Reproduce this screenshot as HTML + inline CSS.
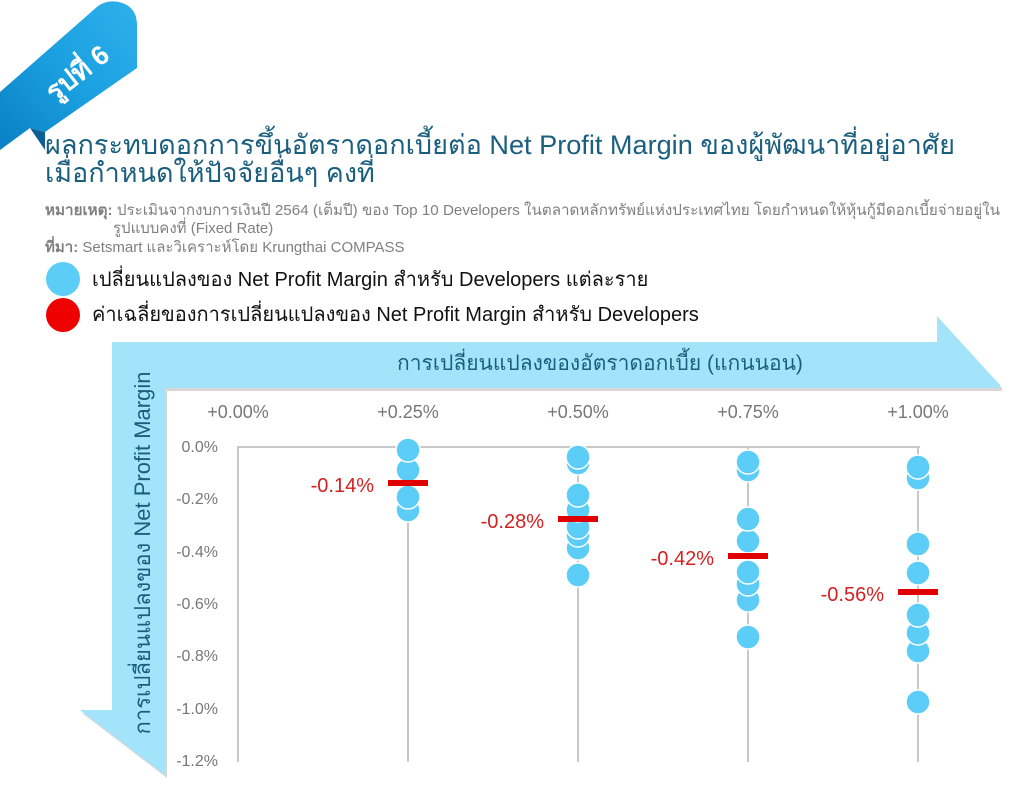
<!DOCTYPE html>
<html><head><meta charset="utf-8"><style>
html,body{margin:0;padding:0;background:#fff;}
svg{display:block;font-family:"Liberation Sans",sans-serif;}
</style></head><body>
<svg width="1025" height="789" viewBox="0 0 1025 789" xmlns="http://www.w3.org/2000/svg">
<defs>
<linearGradient id="rib" x1="0" y1="1" x2="1" y2="0">
<stop offset="0" stop-color="#0a7fc4"/><stop offset="0.5" stop-color="#1aa0e0"/><stop offset="1" stop-color="#2fb0ea"/>
</linearGradient>
</defs>
<polygon points="30,128 45,150 45,132" fill="#0a5f96"/>
<path d="M0,92 L98,6 Q110,-2 125,4 Q137,10 137,25 L137,68 L45,132 L30,128 L0,150 Z" fill="url(#rib)"/>
<text x="78" y="82" transform="rotate(-38 78 74)" font-size="27" font-weight="bold" fill="#fff" text-anchor="middle">รูปที่ 6</text>
<text x="45" y="154" font-size="27" fill="#1b5f7e" textLength="910" lengthAdjust="spacingAndGlyphs">ผลกระทบดอกการขึ้นอัตราดอกเบี้ยต่อ Net Profit Margin ของผู้พัฒนาที่อยู่อาศัย</text>
<text x="45" y="182" font-size="27" fill="#1b5f7e">เมื่อกำหนดให้ปัจจัยอื่นๆ คงที่</text>
<text x="45" y="215" font-size="15" fill="#808080" textLength="955" lengthAdjust="spacingAndGlyphs"><tspan font-weight="bold">หมายเหตุ:</tspan> ประเมินจากงบการเงินปี 2564 (เต็มปี) ของ Top 10 Developers ในตลาดหลักทรัพย์แห่งประเทศไทย โดยกำหนดให้หุ้นกู้มีดอกเบี้ยจ่ายอยู่ใน</text>
<text x="113" y="233" font-size="15" fill="#808080">รูปแบบคงที่ (Fixed Rate)</text>
<text x="45" y="252" font-size="15" fill="#808080"><tspan font-weight="bold">ที่มา:</tspan> Setsmart และวิเคราะห์โดย Krungthai COMPASS</text>
<circle cx="63" cy="279" r="17" fill="#5bcdf6"/>
<circle cx="63" cy="315" r="17" fill="#ee0000"/>
<text x="92" y="286" font-size="20" fill="#111">เปลี่ยนแปลงของ Net Profit Margin สำหรับ Developers แต่ละราย</text>
<text x="92" y="321" font-size="20" fill="#111">ค่าเฉลี่ยของการเปลี่ยนแปลงของ Net Profit Margin สำหรับ Developers</text>
<g fill="#bbb" transform="translate(2,3)" opacity="0.6">
<polygon points="112,342 937,342 937,316 1000,385 1000,388 165,388 165,775 80,710 112,710"/>
</g>
<polygon points="112,342 937,342 937,316 1000,385 1000,388 165,388 165,775 80,710 112,710" fill="#a3e4fa"/>
<text x="600" y="370" font-size="21" fill="#1b5f7e" text-anchor="middle">การเปลี่ยนแปลงของอัตราดอกเบี้ย (แกนนอน)</text>
<text x="0" y="0" transform="translate(150,553) rotate(-90)" font-size="22" fill="#1b5f7e" text-anchor="middle">การเปลี่ยนแปลงของ Net Profit Margin</text>
<g font-size="18" fill="#777" text-anchor="middle">
<text x="238" y="418">+0.00%</text><text x="408" y="418">+0.25%</text><text x="578" y="418">+0.50%</text><text x="748" y="418">+0.75%</text><text x="918" y="418">+1.00%</text>
</g>
<g font-size="16" fill="#777" text-anchor="end">
<text x="218" y="452">0.0%</text><text x="218" y="504">-0.2%</text><text x="218" y="557">-0.4%</text><text x="218" y="609">-0.6%</text><text x="218" y="661">-0.8%</text><text x="218" y="714">-1.0%</text><text x="218" y="766">-1.2%</text>
</g>
<g stroke="#c8c8c8" stroke-width="2">
<line x1="238" y1="447" x2="920" y2="447"/>
<line x1="238" y1="446" x2="238" y2="762"/>
<line x1="408" y1="446" x2="408" y2="762"/>
<line x1="578" y1="446" x2="578" y2="762"/>
<line x1="748" y1="446" x2="748" y2="762"/>
<line x1="918" y1="446" x2="918" y2="762"/>
</g>
<g fill="#5bcdf6" stroke="#fff" stroke-width="1.5">
<circle cx="408" cy="510" r="12"/><circle cx="408" cy="497" r="12"/><circle cx="408" cy="470" r="12"/><circle cx="408" cy="450" r="12"/>
<circle cx="578" cy="575" r="12"/><circle cx="578" cy="548" r="12"/><circle cx="578" cy="535" r="12"/><circle cx="578" cy="527" r="12"/><circle cx="578" cy="510" r="12"/><circle cx="578" cy="495" r="12"/><circle cx="578" cy="463" r="12"/><circle cx="578" cy="457" r="12"/>
<circle cx="748" cy="637" r="12"/><circle cx="748" cy="600" r="12"/><circle cx="748" cy="584" r="12"/><circle cx="748" cy="572" r="12"/><circle cx="748" cy="541" r="12"/><circle cx="748" cy="519" r="12"/><circle cx="748" cy="470" r="12"/><circle cx="748" cy="462" r="12"/>
<circle cx="918" cy="702" r="12"/><circle cx="918" cy="651" r="12"/><circle cx="918" cy="633" r="12"/><circle cx="918" cy="615" r="12"/><circle cx="918" cy="573" r="12"/><circle cx="918" cy="544" r="12"/><circle cx="918" cy="478" r="12"/><circle cx="918" cy="467" r="12"/>
</g>
<g fill="#e00000">
<rect x="388" y="480" width="40" height="6"/>
<rect x="558" y="516" width="40" height="6"/>
<rect x="728" y="553" width="40" height="6"/>
<rect x="898" y="589" width="40" height="6"/>
</g>
<g font-size="20" fill="#d42020" text-anchor="end">
<text x="374" y="492">-0.14%</text>
<text x="544" y="528">-0.28%</text>
<text x="714" y="565">-0.42%</text>
<text x="884" y="601">-0.56%</text>
</g>
</svg>
</body></html>
